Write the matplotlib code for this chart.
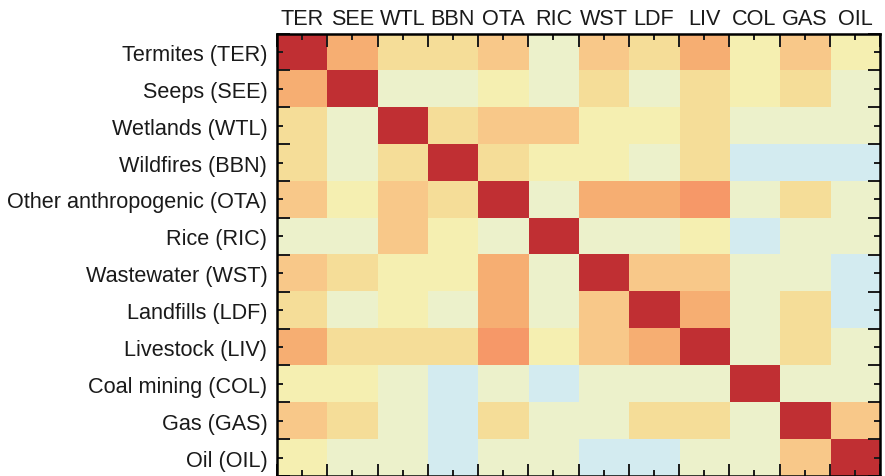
import numpy as np
import matplotlib.pyplot as plt
from matplotlib.colors import ListedColormap, BoundaryNorm

codes = ['TER', 'SEE', 'WTL', 'BBN', 'OTA', 'RIC', 'WST', 'LDF', 'LIV', 'COL', 'GAS', 'OIL']
names = ['Termites', 'Seeps', 'Wetlands', 'Wildfires', 'Other anthropogenic', 'Rice',
         'Wastewater', 'Landfills', 'Livestock', 'Coal mining', 'Gas', 'Oil']

# correlation class of each cell
# 1.0 red, 0.7 orange, 0.6 light orange, 0.5 peach, 0.4 tan, 0.3 pale yellow, 0.2 pale green, 0.1 blue
ter = [1.0, 0.6, 0.4, 0.4, 0.5, 0.2, 0.5, 0.4, 0.6, 0.3, 0.5, 0.3]
see = [0.6, 1.0, 0.2, 0.2, 0.3, 0.2, 0.4, 0.2, 0.4, 0.3, 0.4, 0.2]
wtl = [0.4, 0.2, 1.0, 0.4, 0.5, 0.5, 0.3, 0.3, 0.4, 0.2, 0.2, 0.2]
bbn = [0.4, 0.2, 0.4, 1.0, 0.4, 0.3, 0.3, 0.2, 0.4, 0.1, 0.1, 0.1]
ota = [0.5, 0.3, 0.5, 0.4, 1.0, 0.2, 0.6, 0.6, 0.7, 0.2, 0.4, 0.2]
ric = [0.2, 0.2, 0.5, 0.3, 0.2, 1.0, 0.2, 0.2, 0.3, 0.1, 0.2, 0.2]
wst = [0.5, 0.4, 0.3, 0.3, 0.6, 0.2, 1.0, 0.5, 0.5, 0.2, 0.2, 0.1]
ldf = [0.4, 0.2, 0.3, 0.2, 0.6, 0.2, 0.5, 1.0, 0.6, 0.2, 0.4, 0.1]
liv = [0.6, 0.4, 0.4, 0.4, 0.7, 0.3, 0.5, 0.6, 1.0, 0.2, 0.4, 0.2]
col = [0.3, 0.3, 0.2, 0.1, 0.2, 0.1, 0.2, 0.2, 0.2, 1.0, 0.2, 0.2]
gas = [0.5, 0.4, 0.2, 0.1, 0.4, 0.2, 0.2, 0.4, 0.4, 0.2, 1.0, 0.5]
oil = [0.3, 0.2, 0.2, 0.1, 0.2, 0.2, 0.1, 0.1, 0.2, 0.2, 0.5, 1.0]

corr = np.array([ter, see, wtl, bbn, ota, ric, wst, ldf, liv, col, gas, oil])

colors = ['#d3ebf0', '#ecf1cb', '#f5efb1', '#f5dd98', '#f8c889', '#f6ae72', '#f69868', '#f07a55', '#e05a45', '#c02f33']
bounds = [0.05, 0.15, 0.25, 0.35, 0.45, 0.55, 0.65, 0.75, 0.85, 0.95, 1.05]
cmap = ListedColormap(colors)
norm = BoundaryNorm(bounds, cmap.N)

plt.rcParams['font.family'] = ['Liberation Sans', 'DejaVu Sans']
fig = plt.figure(figsize=(8.85, 4.77), dpi=100)
ax = fig.add_axes([0.313, 0.0, 0.6814, 0.9275])
ax.imshow(corr, cmap=cmap, norm=norm, aspect='auto', interpolation='nearest')

n = len(codes)
ax.set_xticks(np.arange(n))
ax.set_xticklabels(codes)
ax.set_yticks(np.arange(n))
ax.set_yticklabels([f'{a} ({b})' for a, b in zip(names, codes)])
ax.set_xticks(np.arange(n + 1) - 0.5, minor=True)
ax.set_yticks(np.arange(n + 1) - 0.5, minor=True)
ax.set_xlim(-0.5, n - 0.5)
ax.set_ylim(n - 0.5, -0.5)

ax.xaxis.tick_top()
ax.tick_params(which='both', direction='in', top=True, bottom=True, left=True, right=True,
               labeltop=True, labelbottom=False, labelsize=15.6, colors='#1a1a1a', width=1.4)
ax.tick_params(which='major', length=4)
ax.tick_params(axis='x', which='major', pad=3)
ax.tick_params(axis='y', which='major', pad=7)
ax.tick_params(which='minor', length=9)
for s in ax.spines.values():
    s.set_linewidth(1.8)

fig.savefig('out.png', dpi=100)
